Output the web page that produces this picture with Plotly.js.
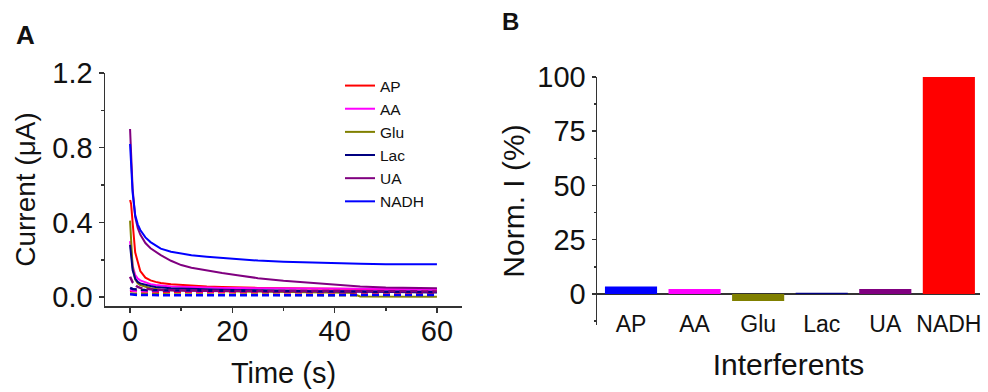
<!DOCTYPE html>
<html>
<head>
<meta charset="utf-8">
<script src="https://cdn.plot.ly/plotly-3.0.1.min.js"></script>
<style>html,body{margin:0;padding:0;background:#fff;}#chart{width:988px;height:392px;}</style>
</head>
<body>
<div id="chart"></div>
<script>
// ---- Panel A data: chronoamperometric current (µA) vs time (s) ----
const timeS = [0, 0.2, 0.5, 1, 1.5, 2, 3, 4, 5, 6, 8, 10, 12, 15, 18, 21, 25, 30, 35, 40, 43, 45, 50, 55, 60];

const curAP   = [0.52, 0.50, 0.40, 0.24, 0.19, 0.14, 0.105, 0.09, 0.082, 0.076, 0.07, 0.066, 0.063, 0.058, 0.055, 0.052, 0.05, 0.048, 0.046, 0.044, 0.043, 0.042, 0.041, 0.04, 0.04];
const curAA   = [0.30, 0.24, 0.17, 0.12, 0.10, 0.09, 0.078, 0.07, 0.066, 0.062, 0.058, 0.056, 0.054, 0.052, 0.05, 0.049, 0.048, 0.047, 0.046, 0.045, 0.045, 0.045, 0.044, 0.044, 0.044];
const curGlu  = [0.41, 0.27, 0.16, 0.095, 0.075, 0.065, 0.055, 0.048, 0.044, 0.04, 0.037, 0.035, 0.034, 0.033, 0.032, 0.031, 0.03, 0.028, 0.027, 0.025, 0.024, 0.004, 0.003, 0.003, 0.003];
const curLac  = [0.28, 0.215, 0.145, 0.10, 0.082, 0.074, 0.066, 0.06, 0.055, 0.052, 0.048, 0.046, 0.044, 0.042, 0.04, 0.039, 0.037, 0.035, 0.033, 0.031, 0.03, 0.029, 0.027, 0.026, 0.025];
const curUA   = [0.90, 0.77, 0.58, 0.43, 0.37, 0.335, 0.29, 0.262, 0.243, 0.225, 0.195, 0.172, 0.158, 0.142, 0.13, 0.118, 0.102, 0.088, 0.077, 0.068, 0.063, 0.058, 0.052, 0.049, 0.048];
const curNADH = [0.82, 0.70, 0.56, 0.44, 0.39, 0.36, 0.32, 0.295, 0.275, 0.26, 0.243, 0.232, 0.225, 0.217, 0.21, 0.203, 0.196, 0.19, 0.185, 0.181, 0.18, 0.179, 0.177, 0.177, 0.176];

// dashed (background / blank) currents
const blankAP   = [0.035, 0.034, 0.033, 0.032, 0.031, 0.031, 0.03, 0.03, 0.03, 0.029, 0.029, 0.029, 0.028, 0.028, 0.028, 0.027, 0.027, 0.027, 0.026, 0.026, 0.026, 0.025, 0.025, 0.025, 0.025];
const blankAA   = [0.04, 0.038, 0.036, 0.035, 0.034, 0.034, 0.033, 0.033, 0.033, 0.032, 0.032, 0.032, 0.032, 0.031, 0.031, 0.031, 0.031, 0.031, 0.03, 0.03, 0.03, 0.03, 0.03, 0.03, 0.03];
const blankGlu  = [0.02, 0.019, 0.018, 0.017, 0.017, 0.016, 0.016, 0.016, 0.015, 0.015, 0.015, 0.015, 0.014, 0.014, 0.014, 0.013, 0.013, 0.012, 0.011, 0.01, 0.009, 0.008, 0.008, 0.008, 0.008];
const blankLac  = [0.05, 0.047, 0.044, 0.042, 0.04, 0.039, 0.038, 0.037, 0.037, 0.036, 0.036, 0.035, 0.035, 0.034, 0.034, 0.033, 0.033, 0.032, 0.031, 0.031, 0.03, 0.03, 0.029, 0.028, 0.028];
const blankUA   = [0.11, 0.095, 0.08, 0.065, 0.055, 0.05, 0.045, 0.042, 0.04, 0.039, 0.038, 0.037, 0.036, 0.035, 0.035, 0.034, 0.034, 0.033, 0.033, 0.032, 0.032, 0.032, 0.031, 0.031, 0.031];
const blankNADH = [0.016, 0.015, 0.014, 0.013, 0.012, 0.012, 0.011, 0.011, 0.011, 0.011, 0.01, 0.01, 0.01, 0.01, 0.01, 0.01, 0.01, 0.011, 0.011, 0.011, 0.011, 0.012, 0.012, 0.012, 0.012];

// ---- Panel B data: normalised current (%) ----
const interferents = ['AP', 'AA', 'Glu', 'Lac', 'UA', 'NADH'];
const normI = [3.4, 2.3, -3.2, 0.6, 2.3, 100];

// ---- styles ----
const seriesColors = {AP: '#ff0000', AA: '#ff00ff', Glu: '#808000', Lac: '#000080', UA: '#800080', NADH: '#0000ff'};
const barColors = ['#0000ff', '#ff00ff', '#808000', '#000080', '#800080', '#ff0000'];

const solid = {AP: curAP, AA: curAA, Glu: curGlu, Lac: curLac, UA: curUA, NADH: curNADH};
const blank = {AP: blankAP, AA: blankAA, Glu: blankGlu, Lac: blankLac, UA: blankUA, NADH: blankNADH};

const FONT = 'Arial, "Liberation Sans", sans-serif';
const traces = [];
interferents.forEach(k => {
  traces.push({
    x: timeS, y: solid[k], type: 'scatter', mode: 'lines', name: k, xaxis: 'x', yaxis: 'y',
    line: {color: seriesColors[k], width: 2}, legendgroup: k
  });
});
interferents.forEach(k => {
  traces.push({
    x: timeS, y: blank[k], type: 'scatter', mode: 'lines', xaxis: 'x', yaxis: 'y',
    line: {color: seriesColors[k], width: 2.5, dash: '7px,4px'}, showlegend: false, legendgroup: k, hoverinfo: 'skip'
  });
});
traces.push({
  x: interferents, y: normI, type: 'bar', xaxis: 'x2', yaxis: 'y2', showlegend: false,
  marker: {color: barColors, line: {width: 0}}
});

const W = 988, H = 392;
const px = v => v / W;
const py = v => 1 - v / H;
const axisCommon = {
  showgrid: false, zeroline: false, showline: true, linecolor: '#333', linewidth: 1.5,
  ticks: 'outside', tickcolor: '#333', tickwidth: 1.5,
  tickfont: {family: FONT, size: 29, color: '#111'}
};

const layout = {
  width: W, height: H,
  margin: {l: 0, r: 0, t: 0, b: 0},
  paper_bgcolor: '#fff', plot_bgcolor: '#fff',
  font: {family: FONT, color: '#111'},
  bargap: 0.18,
  showlegend: true,
  legend: {
    x: px(340), y: py(69), xanchor: 'left', yanchor: 'top',
    bgcolor: 'rgba(0,0,0,0)', borderwidth: 0,
    font: {family: FONT, size: 15.5, color: '#111'},
    tracegroupgap: 0
  },
  xaxis: Object.assign({}, axisCommon, {
    domain: [px(105), px(462)], anchor: 'y', range: [-4.9, 64.9],
    tickvals: [0, 20, 40, 60], ticklen: 5, ticklabelstandoff: -6,
    minor: {tickvals: [10, 30, 50], ticks: 'outside', ticklen: 3, tickcolor: '#333', tickwidth: 1.5},
    title: {text: 'Time (s)', font: {family: FONT, size: 29, color: '#111'}, standoff: 16}
  }),
  yaxis: Object.assign({}, axisCommon, {
    domain: [py(306), py(73)], anchor: 'x', range: [-0.047, 1.2],
    tickvals: [0, 0.4, 0.8, 1.2], tickformat: '.1f', ticklen: 5,
    minor: {tickvals: [0.2, 0.6, 1.0], ticks: 'outside', ticklen: 3, tickcolor: '#333', tickwidth: 1.5},
    title: {text: 'Current (μA)', font: {family: FONT, size: 28, color: '#111'}, standoff: 8}
  }),
  xaxis2: Object.assign({}, axisCommon, {
    domain: [px(597), px(980)], anchor: 'free', position: py(308), range: [-0.535, 5.49],
    type: 'category', showline: false, ticks: '',
    tickfont: {family: FONT, size: 23, color: '#111'},
    title: {text: 'Interferents', font: {family: FONT, size: 30, color: '#111'}, standoff: 17}
  }),
  yaxis2: Object.assign({}, axisCommon, {
    domain: [py(325), py(77)], anchor: 'x2', range: [-14.3, 100],
    tickvals: [0, 25, 50, 75, 100], ticklen: 4,
    zeroline: true, zerolinecolor: '#333', zerolinewidth: 1.5,
    minor: {tickvals: [-12.5, 12.5, 37.5, 62.5, 87.5], ticks: 'outside', ticklen: 2, tickcolor: '#333', tickwidth: 1.5},
    title: {text: 'Norm. I (%)', font: {family: FONT, size: 30, color: '#111'}, standoff: 4}
  }),
  annotations: [
    {text: '<b>A</b>', xref: 'paper', yref: 'paper', x: px(25), y: py(35), xanchor: 'center', yanchor: 'middle',
     showarrow: false, font: {family: FONT, size: 26, color: '#111'}},
    {text: '<b>B</b>', xref: 'paper', yref: 'paper', x: px(511), y: py(21), xanchor: 'center', yanchor: 'middle',
     showarrow: false, font: {family: FONT, size: 24, color: '#111'}}
  ]
};

Plotly.newPlot('chart', traces, layout, {displayModeBar: false, staticPlot: true});
</script>
</body>
</html>
